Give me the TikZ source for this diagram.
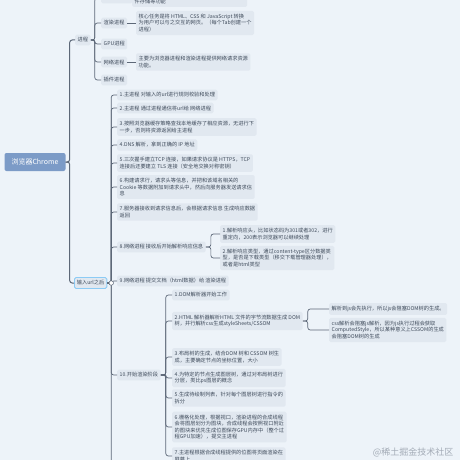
\documentclass[tikz,border=0pt]{standalone}
\usepackage{fontspec}
\setmainfont{Noto Sans CJK SC}
\usepackage{xcolor}
\usepackage{tikz}
\usetikzlibrary{positioning, calc}
\definecolor{mapbg}{HTML}{EDF3F9}
\definecolor{mapfill}{HTML}{E1E8F0}
\definecolor{mapline}{HTML}{5D6878}
\definecolor{mapink}{HTML}{3E4A5A}
\definecolor{rootfill}{HTML}{7C9BC7}
\definecolor{selblue}{HTML}{8CCBF5}
\definecolor{markgray}{HTML}{A3ABB6}

\begin{document}
\begin{tikzpicture}[x=1pt, y=-1pt, font=\fontsize{5.2}{6.6}\selectfont,
 lbl/.style={fill=mapfill, text=mapink, rounded corners=1.5pt, inner xsep=2.5pt, inner ysep=3pt, anchor=west, align=left},
 root/.style={fill=rootfill, text=white, rounded corners=2pt, minimum width=61pt, minimum height=18pt, font=\fontsize{7}{8}\selectfont},
 link/.style={draw=mapline, line width=0.7pt, rounded corners=2.5pt}]
\fill[mapbg](0,0) rectangle (460,460);
\useasboundingbox (0,0) rectangle (460,460);

\node[root](chrome) at (35,162){浏览器Chrome};
\node[lbl](proc) at (75,40){进程};
\node[lbl, draw=selblue, line width=0.8pt](url) at (74,283){输入url之后};

\node[lbl](browser) at (101,-2){浏览器进程};
\node[lbl](render) at (101,23){渲染进程};
\node[lbl](gpu) at (101,44){GPU进程};
\node[lbl](net) at (101,62){网络进程};
\node[lbl](plugin) at (101,80){插件进程};
\node[lbl, text width=110pt](browserx) at (132,-2){\strut\\件存储等功能};
\node[lbl](renderx) at (136,23){核心任务是将 HTML、CSS 和 JavaScript 转换\\为用户可以与之交互的网页。（每个Tab创建一个\\进程）};
\node[lbl](netx) at (136,62){主要为浏览器进程和渲染进程提供网络请求资源\\功能。};

\node[lbl](s1) at (117,95){1.主进程 对输入的url进行规则校验和处理};
\node[lbl](s2) at (117,108){2.主进程 通过进程通信将url给 网络进程};
\node[lbl](s3) at (117,127){3.按照浏览器缓存策略查找本地缓存了相应资源，无进行下\\一步，否则将资源返回给主进程};
\node[lbl](s4) at (117,145){4.DNS 解析，拿到正确的 IP 地址};
\node[lbl](s5) at (117,163){5.三次握手建立TCP 连接，如果请求协议是 HTTPS，TCP\\连接后还要建立 TLS 连接（安全地交换对称密钥）};
\node[lbl](s6) at (117,187){6.构建请求行，请求头等信息，并把和该域名相关的\\Cookie 等数据附加到请求头中，然后向服务器发送请求信\\息};
\node[lbl](s7) at (117,212){7.服务器接收到请求信息后，会根据请求信息 生成响应数据\\返回};
\node[lbl](s8) at (117,247){8.网络进程 接收后开始解析响应信息};
\node[lbl](s9) at (117,281){9.网络进程 提交文档（html数据）给 渲染进程};
\node[lbl](s10) at (117,375){10.开始渲染阶段};
\coordinate(more) at (117,470);

\node[lbl](r1) at (220,234){1.解析响应头，比如状态码为301或者302，进行\\重定向，200表示浏览器可以继续处理};
\node[lbl](r2) at (220,258){2.解析响应类型，通过content-type区分数据类\\型，是否是下载类型（移交下载管理器处理），\\或者是html类型};

\node[lbl](t1) at (172,295){1.DOM解析器开始工作};
\node[lbl](t2) at (172,321){2.HTML 解析器解析HTML 文件的字节流数据生成 DOM\\树，并行解析css生成styleSheets/CSSOM};
\node[lbl](t3) at (172,357){3.布局树的生成，结合DOM 树和 CSSOM 树生\\成，主要确定节点的坐标位置，大小};
\node[lbl](t4) at (172,378){4.为特定的节点生成图层树，通过对布局树进行\\分层，类比ps图层的概念};
\node[lbl](t5) at (172,398){5.生成待绘制列表，针对每个图层树进行指令的\\拆分};
\node[lbl](t6) at (172,427){6.栅格化处理，根据视口，渲染进程的合成线程\\会将图层划分为图块，合成线程会按照视口附近\\的图块来优先生成位图保存GPU内存中（整个过\\程GPU加速），提交主进程};
\node[lbl](t7) at (172,456){7.主进程根据合成线程提供的位图将页面渲染在\\屏幕上};

\node[lbl](u1) at (329,309){解析到js会先执行，所以js会阻塞DOM树的生成。};
\node[lbl](u2) at (329,330){css解析会阻塞js解析，因为js执行过程会获取\\ComputedStyle，所以某种意义上CSSOM的生成\\会阻塞DOM树的生成};

\foreach \c in {proc,url}
  {\draw[link, line width=1pt](chrome.east) -- ++(4pt,0) |- (\c.west);}
\foreach \c in {browser,render,gpu,net,plugin}
  {\draw[link](proc.east) -- ++(4pt,0) |- (\c.west);}
\foreach \a/\b in {browser/browserx,render/renderx,net/netx}
  {\draw[link](\a.east) -- (\b.west);}
\foreach \c in {s1,s2,s3,s4,s5,s6,s7,s8,s9,s10,more}
  {\draw[link](url.east) -- ++(4pt,0) |- (\c.west);}
\foreach \c in {r1,r2}
  {\draw[link](s8.east) -- ++(5pt,0) |- (\c.west);}
\foreach \c in {t1,t2,t3,t4,t5,t6,t7}
  {\draw[link](s10.east) -- ++(5pt,0) |- (\c.west);}
\foreach \c in {u1,u2}
  {\draw[link](t2.east) -- ++(5pt,0) |- (\c.west);}

\node[circle, draw=mapline, fill=white, line width=0.5pt, inner sep=0pt, minimum size=4.5pt](fold) at ($(url.east)+(4pt,0)$){};
\node[text=markgray, font=\fontsize{9}{10}\selectfont, anchor=east](mark) at (457,452){@稀土掘金技术社区};
\end{tikzpicture}
\end{document}
